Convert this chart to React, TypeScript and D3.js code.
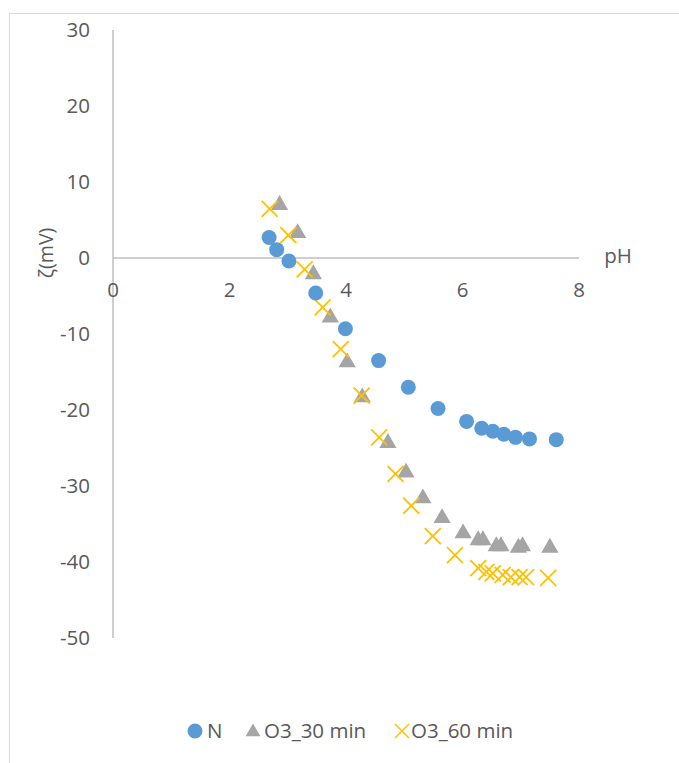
import React from "react";
import * as d3 from "d3";

const nX = [2.68, 2.81, 3.02, 3.48, 3.99, 4.56, 5.07, 5.58, 6.07, 6.33, 6.52, 6.71, 6.91, 7.15, 7.61];
const nY = [2.7, 1.1, -0.4, -4.6, -9.3, -13.5, -17.0, -19.8, -21.5, -22.4, -22.8, -23.2, -23.6, -23.8, -23.9];

const o30X = [2.86, 3.17, 3.44, 3.73, 4.02, 4.28, 4.72, 5.03, 5.32, 5.65, 6.01, 6.27, 6.35, 6.58, 6.66, 6.96, 7.03, 7.5];
const o30Y = [7.1, 3.4, -2.0, -7.7, -13.6, -18.2, -24.2, -28.1, -31.5, -34.1, -36.1, -37.0, -37.0, -37.8, -37.8, -38.0, -37.8, -38.0];

const o60X = [2.69, 3.01, 3.29, 3.6, 3.91, 4.27, 4.57, 4.85, 5.12, 5.49, 5.87, 6.27, 6.41, 6.52, 6.69, 6.83, 6.98, 7.09, 7.47];
const o60Y = [6.45, 3.0, -1.5, -6.5, -12.0, -18.1, -23.6, -28.4, -32.6, -36.6, -39.1, -40.8, -41.3, -41.5, -41.7, -42.0, -42.0, -42.0, -42.1];

const xTicks = [0, 2, 4, 6, 8];
const yTicks = [30, 20, 10, 0, -10, -20, -30, -40, -50];

const FONT = "'Open Sans', 'Noto Sans', sans-serif";
const TXT = "#595959";
const FS = 20.5;

export default function App() {
  const x = d3.scaleLinear().domain([0, 8]).range([113, 579]);
  const y = d3.scaleLinear().domain([-50, 30]).range([638, 30]);

  const tri = d3.symbol().type(d3.symbolTriangle).size(128)();

  return (
    <svg width={679} height={763} style={{ position: "absolute", left: 0, top: 0 }}>
      <rect x={0} y={0} width={679} height={763} fill="#fff" />
      <rect x={9.5} y={13.5} width={700} height={800} fill="none" stroke="#d9d9d9" strokeWidth={1} />
      {/* axes */}
      <line x1={x(0)} x2={x(0)} y1={y(30)} y2={y(-50)} stroke="#bfbfbf" strokeWidth={1.5} />
      <line x1={x(0)} x2={x(8)} y1={y(0)} y2={y(0)} stroke="#bfbfbf" strokeWidth={1.5} />
      {yTicks.map((t) => (
        <text key={"y" + t} x={90} y={y(t)} dy="0.35em" textAnchor="end" fontFamily={FONT} fontSize={FS} fill={TXT}>
          {t}
        </text>
      ))}
      {xTicks.map((t) => (
        <text key={"x" + t} x={x(t)} y={289.5} dy="0.35em" textAnchor="middle" fontFamily={FONT} fontSize={FS} fill={TXT}>
          {t}
        </text>
      ))}
      <text x={618} y={256} textAnchor="middle" dy="0.35em" fontFamily={FONT} fontSize={FS} fill={TXT}>pH</text>
      <text transform={`translate(46,253) rotate(-90)`} textAnchor="middle" dy="0.35em" fontFamily={FONT} fontSize={19.5} fill={TXT}>ζ(mV)</text>

      {/* series */}
      {o30X.map((v, i) => (
        <path key={"t" + i} d={tri} transform={`translate(${x(v)},${y(o30Y[i]) + 1})`} fill="#a5a5a5" />
      ))}
      {o60X.map((v, i) => {
        const cx = x(v), cy = y(o60Y[i]), r = 8;
        return (
          <g key={"c" + i} stroke="#ffc000" strokeWidth={1.8}>
            <line x1={cx - r} y1={cy - r} x2={cx + r} y2={cy + r} />
            <line x1={cx - r} y1={cy + r} x2={cx + r} y2={cy - r} />
          </g>
        );
      })}
      {nX.map((v, i) => (
        <circle key={"n" + i} cx={x(v)} cy={y(nY[i])} r={7.5} fill="#5b9bd5" />
      ))}

      {/* legend */}
      <circle cx={195} cy={731} r={7.5} fill="#5b9bd5" />
      <text x={207} y={731} dy="0.35em" fontFamily={FONT} fontSize={FS} fill={TXT}>N</text>
      <path d={d3.symbol().type(d3.symbolTriangle).size(95)()} transform="translate(253,732)" fill="#a5a5a5" />
      <text x={264} y={731} dy="0.35em" fontFamily={FONT} fontSize={FS} fill={TXT}>O3_30 min</text>
      <g stroke="#ffc000" strokeWidth={1.5}>
        <line x1={395} y1={724} x2={409} y2={738} />
        <line x1={395} y1={738} x2={409} y2={724} />
      </g>
      <text x={411} y={731} dy="0.35em" fontFamily={FONT} fontSize={FS} fill={TXT}>O3_60 min</text>
    </svg>
  );
}
